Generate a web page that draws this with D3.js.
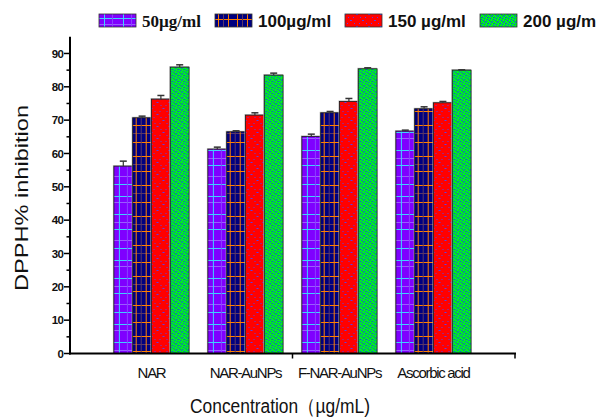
<!DOCTYPE html>
<html><head><meta charset="utf-8">
<script src="https://cdn.jsdelivr.net/npm/d3@7"></script>
<style>html,body{margin:0;padding:0;background:#fff;}svg{display:block;}</style>
</head><body>
<script>
const categories = ["NAR", "NAR-AuNPs", "F-NAR-AuNPs", "Ascorbic acid"];
const seriesNames = ["50µg/ml", "100µg/ml", "150 µg/ml", "200 µg/m"];
const v50  = [56.2, 61.3, 65.1, 66.7];
const v100 = [70.7, 66.5, 72.2, 73.4];
const v150 = [76.3, 71.5, 75.6, 75.2];
const v200 = [85.9, 83.5, 85.4, 85.0];
const e50  = [1.5, 0.6, 0.7, 0.3];
const e100 = [0.5, 0.3, 0.4, 0.6];
const e150 = [1.1, 0.7, 0.9, 0.4];
const e200 = [0.7, 0.6, 0.3, 0.1];
const yTicks = [0, 10, 20, 30, 40, 50, 60, 70, 80, 90];
const yMinor = [5, 15, 25, 35, 45, 55, 65, 75, 85];
const yTitle = "DPPH% inhibition";
const xTitle = "Concentration（µg/mL)";

const values = [v50, v100, v150, v200];
const errors = [e50, e100, e150, e200];
const W = 606, H = 418;
const svg = d3.select("body").append("svg").attr("width", W).attr("height", H);
svg.append("rect").attr("width", W).attr("height", H).attr("fill", "#fff");

const defs = svg.append("defs");
function mkPattern(id, w, h, bg, draw) {
  const p = defs.append("pattern").attr("id", id).attr("patternUnits", "userSpaceOnUse")
    .attr("width", w).attr("height", h);
  p.append("rect").attr("width", w).attr("height", h).attr("fill", bg);
  draw(p);
}
mkPattern("p0", 19, 64, "#7f00ff", p => {
  const hl = [[4, "#3fd0ff"], [10, "#9a5cff"], [22, "#3fd0ff"], [30, "#9a5cff"], [37, "#3fd0ff"], [48, "#9a5cff"], [56, "#3fd0ff"]];
  hl.forEach(([y, c]) => p.append("rect").attr("x", 0).attr("y", y).attr("width", 19).attr("height", 1).attr("fill", c));
  p.append("rect").attr("x", 5).attr("y", 0).attr("width", 1).attr("height", 64).attr("fill", "#3fd0ff");
  p.append("rect").attr("x", 13).attr("y", 0).attr("width", 1).attr("height", 64).attr("fill", "#8a40ff");
});
mkPattern("p1", 19, 60, "#000080", p => {
  const hl = [[5, "#ff8000"], [13, "#5a3868"], [22, "#ff8000"], [36, "#ff8000"], [44, "#5a3868"], [51, "#ff8000"]];
  hl.forEach(([y, c]) => p.append("rect").attr("x", 0).attr("y", y).attr("width", 19).attr("height", 1).attr("fill", c));
  [[3, "#ff8000"], [8, "#5a3868"], [13, "#ff8000"]].forEach(([x, c]) =>
    p.append("rect").attr("x", x).attr("y", 0).attr("width", 1).attr("height", 60).attr("fill", c));
});
mkPattern("p2", 12, 12, "#ff0000", p => {
  for (let i = 0; i < 12; i += 3) {
    p.append("rect").attr("x", i).attr("y", i).attr("width", 1).attr("height", 1).attr("fill", "#5a40e8");
    p.append("rect").attr("x", 11 - i).attr("y", i).attr("width", 1).attr("height", 1).attr("fill", "#5a40e8");
  }
});
mkPattern("p3", 6, 6, "#00ee22", p => {
  [[0,1],[3,0],[2,3],[5,2],[1,5],[4,4]].forEach(([x,y]) =>
    p.append("rect").attr("x", x).attr("y", y).attr("width", 1).attr("height", 1).attr("fill", "#1a3cff"));
  [[4,1],[1,3]].forEach(([x,y]) =>
    p.append("rect").attr("x", x).attr("y", y).attr("width", 1).attr("height", 1).attr("fill", "#00a060"));
});

const y = d3.scaleLinear().domain([0, 95]).range([353.5, 36.8]);
const xAxisL = 70, xAxisR = 515;
const x = d3.scalePoint().domain(categories).range([xAxisL, xAxisR]).padding(0.867);
const groupW = 75.2;
const xs = d3.scaleBand().domain(d3.range(4)).range([0, groupW]);

// Bars
categories.forEach((cat, ci) => {
  const g0 = x(cat) - groupW / 2;
  for (let s = 0; s < 4; s++) {
    const bx = g0 + xs(s);
    const v = values[s][ci];
    const g = svg.append("g").attr("transform", `translate(${bx},0)`);
    g.append("rect").attr("x", -1).attr("y", y(v) - 1).attr("width", xs.bandwidth() + 1).attr("height", y(0) - y(v) + 1)
      .attr("fill", "#b0b0b0");
    g.append("rect").attr("x", 0).attr("y", y(v)).attr("width", xs.bandwidth()).attr("height", y(0) - y(v))
      .attr("fill", `url(#p${s})`).attr("stroke", "#1a1a1a").attr("stroke-width", 0.8);
  }
});
// Error bars
categories.forEach((cat, ci) => {
  const g0 = x(cat) - groupW / 2;
  for (let s = 0; s < 4; s++) {
    const cx = g0 + xs(s) + xs.bandwidth() / 2;
    const v = values[s][ci], e = errors[s][ci];
    svg.append("line").attr("x1", cx).attr("x2", cx).attr("y1", y(v)).attr("y2", y(v + e))
      .attr("stroke", "#333").attr("stroke-width", 1.2);
    svg.append("line").attr("x1", cx - 3.5).attr("x2", cx + 3.5).attr("y1", y(v + e)).attr("y2", y(v + e))
      .attr("stroke", "#333").attr("stroke-width", 1.5);
  }
});

// Y axis
const ax = svg.append("g");
ax.append("line").attr("x1", xAxisL).attr("x2", xAxisL).attr("y1", y(95)).attr("y2", y(0) + 1)
  .attr("stroke", "#000").attr("stroke-width", 2);
yTicks.forEach(t => {
  ax.append("line").attr("x1", xAxisL - 6).attr("x2", xAxisL).attr("y1", y(t)).attr("y2", y(t)).attr("stroke", "#000").attr("stroke-width", 1.5);
  ax.append("text").attr("x", xAxisL - 7).attr("y", y(t)).attr("dy", "0.36em").attr("text-anchor", "end")
    .attr("font-family", "Liberation Sans, Arial, sans-serif").attr("font-size", 11.5).attr("font-weight", "bold")
    .attr("letter-spacing", "-0.8").attr("fill", "#111").text(t);
});
yMinor.forEach(t => {
  ax.append("line").attr("x1", xAxisL - 3.5).attr("x2", xAxisL).attr("y1", y(t)).attr("y2", y(t)).attr("stroke", "#000").attr("stroke-width", 1.5);
});
// X axis
ax.append("line").attr("x1", xAxisL - 1).attr("x2", xAxisR + 1).attr("y1", y(0)).attr("y2", y(0)).attr("stroke", "#000").attr("stroke-width", 2);
[(xAxisL + xAxisR) / 2, xAxisR].forEach(tx =>
  ax.append("line").attr("x1", tx).attr("x2", tx).attr("y1", y(0)).attr("y2", y(0) + 5).attr("stroke", "#000").attr("stroke-width", 1.5));
categories.forEach(c => {
  ax.append("text").attr("x", x(c)).attr("y", 378).attr("text-anchor", "middle")
    .attr("font-family", "Liberation Sans, Arial, sans-serif").attr("font-size", 15)
    .attr("letter-spacing", "-1.3").attr("fill", "#111").text(c);
});
// Axis titles
svg.append("text").attr("x", 280).attr("y", 413).attr("text-anchor", "middle")
  .attr("font-family", "Liberation Sans, Arial, sans-serif").attr("font-size", 20)
  .attr("textLength", 180).attr("lengthAdjust", "spacingAndGlyphs").attr("fill", "#111").text(xTitle);
svg.append("text").attr("transform", "translate(28,198) rotate(-90)").attr("text-anchor", "middle")
  .attr("font-family", "Liberation Sans, Arial, sans-serif").attr("font-size", 19)
  .attr("textLength", 186).attr("lengthAdjust", "spacingAndGlyphs").attr("fill", "#111").text(yTitle);

// Legend
const legX = [99, 215, 345, 480];
seriesNames.forEach((n, i) => {
  const g = svg.append("g").attr("transform", `translate(${legX[i]},14)`);
  g.append("rect").attr("x", 0).attr("y", 0).attr("width", 37).attr("height", 13)
    .attr("fill", `url(#p${i})`).attr("stroke", "#333").attr("stroke-width", 0.8);
  g.append("text").attr("x", 43).attr("y", 12.5)
    .attr("font-family", i === 0 ? "Liberation Serif, Times New Roman, serif" : "Liberation Sans, Arial, sans-serif")
    .attr("font-size", 17).attr("font-weight", "bold").attr("fill", "#111").text(n);
});
</script>
</body></html>
